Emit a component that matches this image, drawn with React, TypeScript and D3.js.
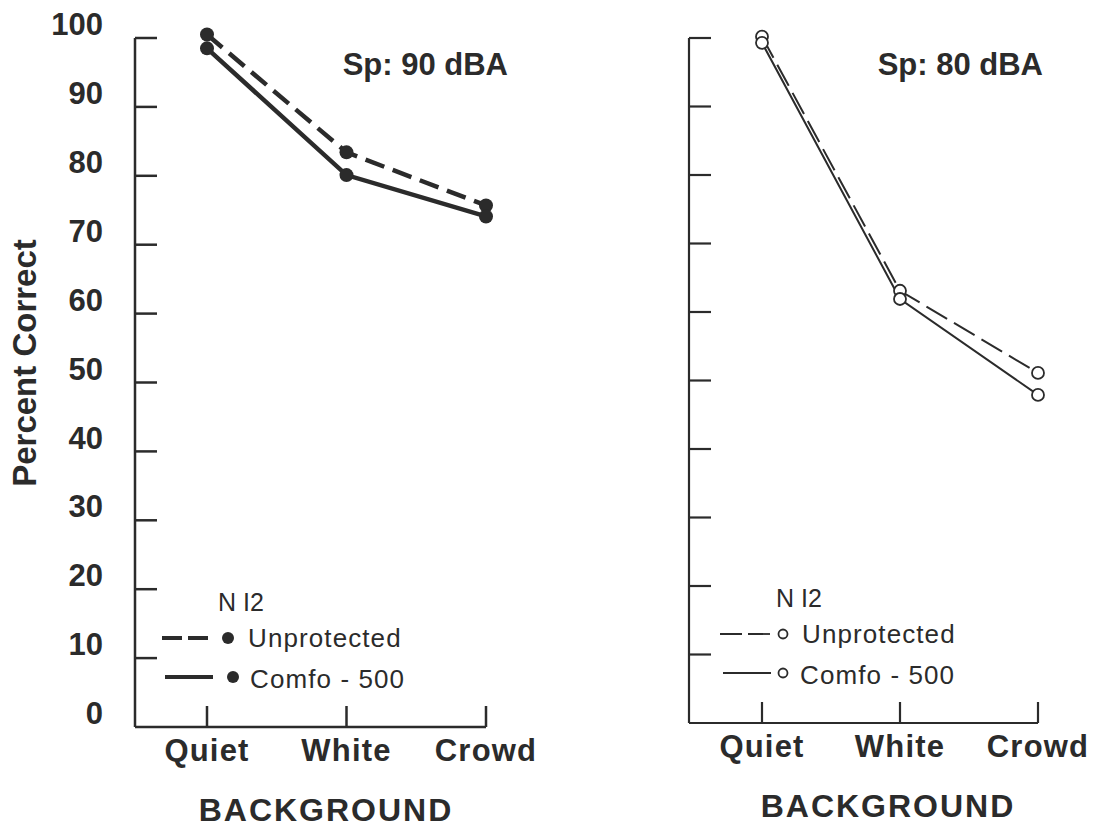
import React from "react";
import * as d3 from "d3";

const categories = ["Quiet", "White", "Crowd"];
const yTicks = [0, 10, 20, 30, 40, 50, 60, 70, 80, 90, 100];

// Sp: 90 dBA (filled markers)
const unprotected90 = [100.5, 83.4, 75.7];
const comfo90 = [98.5, 80.1, 74.1];
// Sp: 80 dBA (open markers)
const unprotected80 = [100.2, 63.1, 51.1];
const comfo80 = [99.3, 61.9, 47.9];

const ink = "#2b2b2b";
const font = "'Liberation Sans', Arial, Helvetica, sans-serif";

type PanelProps = {
  axisX: number;
  xRange: [number, number];
  yRange: [number, number];
  title: string;
  titleRight: number;
  dashed: number[];
  solid: number[];
  filled: boolean;
  showYLabels: boolean;
  legend: { x: number; y: number };
  catBaseline: number;
  bgCenter: number;
};

function Panel(p: PanelProps) {
  const x = d3.scalePoint<string>().domain(categories).range(p.xRange).padding(0);
  const y = d3.scaleLinear().domain([0, 100]).range(p.yRange);
  const line = d3
    .line<number>()
    .x((_, i) => x(categories[i]) as number)
    .y((d) => y(d));

  const lw = p.filled ? 4.5 : 2;
  const axisW = p.filled ? 2.5 : 2.2;
  const dash = p.filled ? "20 9" : "24 8";
  const base = y(0);
  const lx = p.legend.x;
  const ly = p.legend.y;

  const marker = (cx: number, cy: number, r: number, key: string) =>
    p.filled ? (
      <circle key={key} cx={cx} cy={cy} r={r} fill={ink} />
    ) : (
      <circle key={key} cx={cx} cy={cy} r={r} fill="white" stroke={ink} strokeWidth={1.8} />
    );

  return (
    <g>
      {/* y axis */}
      <line x1={p.axisX} x2={p.axisX} y1={y(100)} y2={base} stroke={ink} strokeWidth={axisW} />
      {yTicks.slice(1).map((t) => (
        <line key={t} x1={p.axisX} x2={p.axisX + 22} y1={y(t)} y2={y(t)} stroke={ink} strokeWidth={axisW} />
      ))}
      {p.showYLabels &&
        yTicks.map((t) => (
          <text
            key={"l" + t}
            x={103}
            y={y(t) - 11}
            textAnchor="end"
            dominantBaseline="middle"
            fontSize={31}
            fontWeight="bold"
            fill={ink}
          >
            {t}
          </text>
        ))}
      {/* x axis */}
      <line
        x1={p.axisX}
        x2={x(categories[categories.length - 1]) as number}
        y1={base}
        y2={base}
        stroke={ink}
        strokeWidth={axisW}
      />
      {categories.map((c) => (
        <g key={c}>
          <line x1={x(c)} x2={x(c)} y1={base} y2={base - 21} stroke={ink} strokeWidth={axisW} />
          <text
            x={x(c)}
            y={p.catBaseline}
            textAnchor="middle"
            fontSize={31}
            fontWeight="bold"
            letterSpacing={1.2}
            fill={ink}
          >
            {c}
          </text>
        </g>
      ))}
      <text
        x={p.bgCenter}
        y={p.catBaseline + 60}
        textAnchor="middle"
        fontSize={32}
        fontWeight="bold"
        letterSpacing={2}
        fill={ink}
      >
        BACKGROUND
      </text>

      {/* title */}
      <text x={p.titleRight} y={75} textAnchor="end" fontSize={31} fontWeight="bold" fill={ink}>
        {p.title}
      </text>

      {/* series */}
      <path d={line(p.dashed) || ""} fill="none" stroke={ink} strokeWidth={lw} strokeDasharray={dash} />
      <path d={line(p.solid) || ""} fill="none" stroke={ink} strokeWidth={lw} />
      {p.dashed.map((v, i) => marker(x(categories[i]) as number, y(v), p.filled ? 7 : 6, "d" + i))}
      {p.solid.map((v, i) => marker(x(categories[i]) as number, y(v), p.filled ? 7 : 6, "s" + i))}

      {/* legend */}
      <text x={lx + 56} y={ly} fontSize={25} fill={ink}>
        N I2
      </text>
      <line x1={lx} x2={lx + 51} y1={ly + 27} y2={ly + 27} stroke={ink} strokeWidth={p.filled ? 4 : 1.8} strokeDasharray={p.filled ? "20 6" : "22 6"} />
      {marker(lx + (p.filled ? 66 : 63), ly + 27, p.filled ? 6 : 4.5, "lm1")}
      <text x={lx + (p.filled ? 86 : 82)} y={ly + 36} fontSize={26} letterSpacing={1.1} fill={ink}>
        Unprotected
      </text>
      <line x1={lx + 3} x2={lx + 51} y1={ly + 66} y2={ly + 66} stroke={ink} strokeWidth={p.filled ? 4 : 1.8} />
      {marker(lx + (p.filled ? 71 : 63), ly + 66, p.filled ? 6 : 4.5, "lm2")}
      <text x={lx + (p.filled ? 88 : 80)} y={ly + 77} fontSize={26} letterSpacing={1.1} fill={ink}>
        Comfo - 500
      </text>
    </g>
  );
}

export default function App() {
  return (
    <svg
      width={1097}
      height={829}
      style={{ position: "absolute", left: 0, top: 0, background: "white" }}
      fontFamily={font}
    >
      <rect width={1097} height={829} fill="white" />
      <text
        transform="translate(36,363) rotate(-90)"
        textAnchor="middle"
        fontSize={33}
        fontWeight="bold"
        fill={ink}
      >
        Percent Correct
      </text>
      <Panel
        axisX={135}
        xRange={[207, 486]}
        yRange={[727, 38]}
        title="Sp: 90 dBA"
        titleRight={508}
        dashed={unprotected90}
        solid={comfo90}
        filled={true}
        showYLabels={true}
        legend={{ x: 162, y: 611 }}
        catBaseline={761}
        bgCenter={326}
      />
      <Panel
        axisX={689}
        xRange={[762, 1038]}
        yRange={[723, 38]}
        title="Sp: 80 dBA"
        titleRight={1043}
        dashed={unprotected80}
        solid={comfo80}
        filled={false}
        showYLabels={false}
        legend={{ x: 720, y: 607 }}
        catBaseline={757}
        bgCenter={888}
      />
    </svg>
  );
}
